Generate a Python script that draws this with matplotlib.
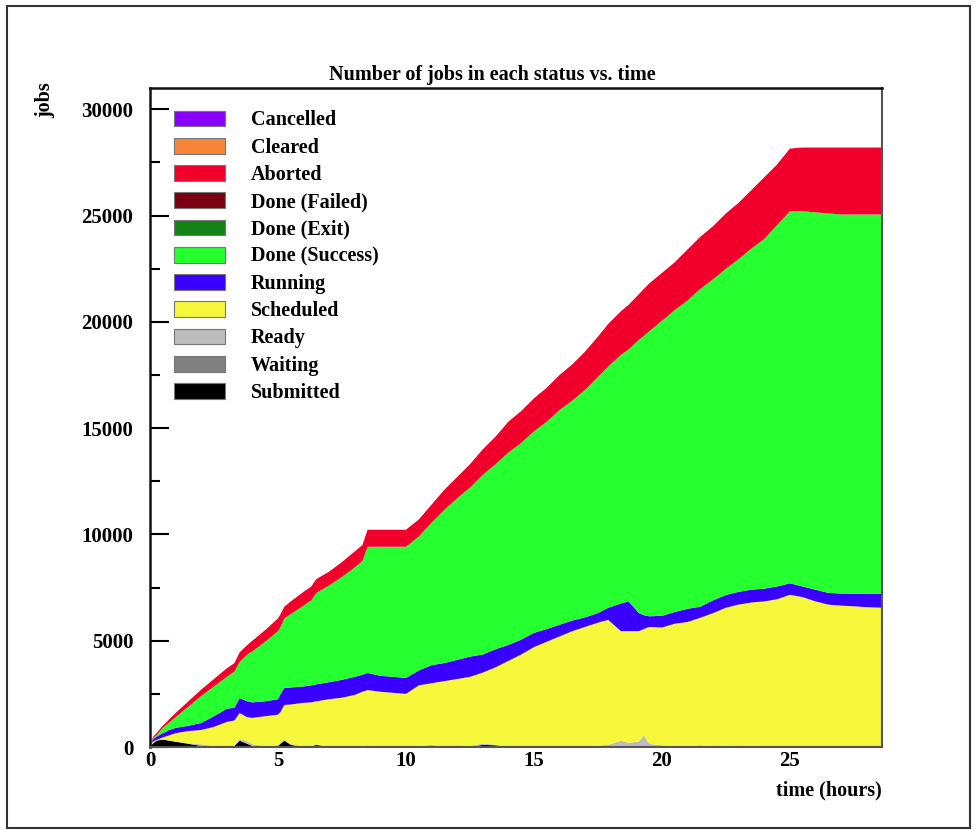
import numpy as np
import matplotlib
matplotlib.use('Agg')
import matplotlib.pyplot as plt
from matplotlib.patches import Patch, Rectangle
from matplotlib.ticker import MultipleLocator

# time since start of the run (hours)
hours = [0, 0.1, 0.25, 0.5, 0.75, 1, 1.5, 2, 2.5, 3, 3.3, 3.5, 3.8, 4, 4.5, 5,
         5.1, 5.25, 5.5, 6, 6.3, 6.5, 7, 7.5, 8, 8.3, 8.5, 9, 9.5, 10, 10.5, 11,
         11.5, 12, 12.5, 13, 13.5, 14, 14.5, 15, 15.5, 16, 16.5, 17, 17.5, 17.9,
         18.4, 18.7, 19.1, 19.3, 19.5, 20, 20.5, 21, 21.5, 22, 22.5, 23, 23.5,
         24, 24.5, 25, 25.5, 26, 26.5, 27, 27.5, 28, 28.6]

# number of jobs in each status at those times
submitted = [0, 150, 300, 350, 300, 250, 150, 50, 0, 0, 50, 300, 150, 50, 0, 50,
             150, 300, 100, 0, 30, 100, 0, 0, 0, 0, 0, 0, 0, 0, 0, 0,
             0, 0, 0, 100, 80, 0, 0, 0, 0, 0, 0, 0, 0, 0,
             0, 0, 0, 0, 0, 0, 0, 0, 0, 0, 0, 0, 0,
             0, 0, 0, 0, 0, 0, 0, 0, 0, 0]
ready = [0, 0, 0, 0, 0, 0, 20, 80, 40, 30, 0, 80, 120, 80, 40, 30,
         50, 40, 40, 30, 20, 0, 30, 20, 30, 50, 80, 30, 40, 20, 50, 100,
         30, 80, 50, 60, 30, 20, 30, 40, 20, 40, 50, 30, 60, 100,
         300, 200, 250, 550, 150, 80, 60, 50, 80, 40, 60, 40, 60,
         40, 30, 0, 0, 0, 0, 0, 0, 0, 0]
scheduled = [0, 100, 30, 100, 250, 400, 580, 670, 910, 1150, 1200, 1220, 1130, 1240, 1410, 1440,
             1450, 1640, 1860, 2050, 2050, 2050, 2220, 2300, 2420, 2550, 2600, 2570, 2510, 2480, 2850, 2900,
             3070, 3120, 3250, 3340, 3640, 4030, 4320, 4660, 4930, 5160, 5400, 5620, 5790, 5880,
             5150, 5250, 5200, 5000, 5500, 5540, 5740, 5830, 6000, 6260, 6490, 6660, 6740,
             6810, 6920, 7160, 7050, 6850, 6700, 6650, 6620, 6580, 6550]
running = [0, 100, 150, 200, 250, 250, 250, 330, 500, 620, 600, 700, 750, 730, 700, 730,
           850, 800, 800, 770, 800, 800, 800, 840, 850, 800, 800, 750, 750, 750, 700, 850,
           850, 900, 950, 850, 850, 750, 700, 670, 600, 550, 500, 450, 450, 570,
           1300, 1400, 850, 650, 500, 550, 550, 620, 520, 600, 600, 600, 600,
           600, 600, 540, 500, 550, 550, 570, 590, 620, 650]
done_success = [0, 50, 70, 250, 350, 500, 900, 1270, 1400, 1500, 1700, 1700, 2200, 2400, 2800, 3200,
                3150, 3270, 3450, 3800, 4000, 4300, 4550, 4840, 5150, 5350, 5940, 6070, 6120, 6170, 6300, 6700,
                7200, 7600, 7950, 8450, 8700, 9050, 9250, 9480, 9750, 10100, 10350, 10700, 11100, 11350,
                11700, 11850, 12850, 13150, 13400, 13880, 14200, 14500, 14950, 15100, 15350, 15650, 16050,
                16450, 17000, 17500, 17650, 17750, 17850, 17830, 17840, 17850, 17850]
aborted = [0, 50, 100, 100, 150, 200, 250, 300, 350, 400, 400, 450, 450, 500, 550, 600,
           600, 550, 600, 650, 650, 650, 650, 700, 750, 750, 800, 800, 800, 800, 800, 850,
           950, 1000, 1100, 1200, 1300, 1450, 1500, 1550, 1600, 1650, 1700, 1800, 1900, 2000,
           2050, 2100, 2150, 2200, 2250, 2250, 2250, 2400, 2450, 2500, 2600, 2650, 2750,
           2900, 2850, 2950, 3000, 3050, 3100, 3150, 3150, 3150, 3150]
zeros = [0] * len(hours)
waiting = zeros
done_exit = zeros
done_failed = zeros
cleared = zeros
cancelled = zeros

# stacked from the bottom up
statuses = ['Submitted', 'Waiting', 'Ready', 'Scheduled', 'Running', 'Done (Success)',
            'Done (Exit)', 'Done (Failed)', 'Aborted', 'Cleared', 'Cancelled']
counts = [submitted, waiting, ready, scheduled, running, done_success,
          done_exit, done_failed, aborted, cleared, cancelled]
colors = ['#000000', '#808080', '#bcbcbc', '#f6f63a', '#3a00ff', '#26ff30',
          '#148214', '#7a0012', '#f2002c', '#f8843a', '#8a00ff']

plt.rcParams['font.family'] = ['Liberation Serif', 'DejaVu Serif']
plt.rcParams['font.weight'] = 'bold'

fig = plt.figure(figsize=(9.8, 8.3), dpi=100)
ax = fig.add_axes([150 / 980, 1 - 747 / 830, 732 / 980, 659 / 830])

ax.stackplot(hours, *counts, colors=colors, linewidth=0)

ax.set_xlim(0, 28.6)
ax.set_ylim(0, 31000)
ax.xaxis.set_major_locator(MultipleLocator(5))
ax.yaxis.set_major_locator(MultipleLocator(5000))
ax.yaxis.set_minor_locator(MultipleLocator(2500))
ax.tick_params(axis='y', which='major', direction='in', length=14, width=1.5, labelsize=15, pad=12)
ax.tick_params(axis='y', which='minor', direction='in', length=7, width=1.5)
ax.tick_params(axis='x', which='both', length=0, labelsize=15, pad=3)
for side in ['left', 'top']:
    ax.spines[side].set_linewidth(1.8)
    ax.spines[side].set_color('#111111')
for side in ['right', 'bottom']:
    ax.spines[side].set_linewidth(1.5)
    ax.spines[side].set_color('#555555')

ax.set_title('Number of jobs in each status vs. time', fontsize=14.5, fontweight='bold',
             x=0.467, pad=6)
fig.text(45 / 980, 1 - 100 / 830, 'jobs', rotation=90, ha='center', va='center',
         fontsize=14.5, fontweight='bold')
ax.set_xlabel('time (hours)', fontsize=14.5, fontweight='bold', loc='right', labelpad=7)

# legend: top of the stack listed first
handles = [Patch(facecolor=c, edgecolor='#777777', linewidth=0.8) for c in colors[::-1]]
ax.legend(handles, statuses[::-1], loc='upper left', bbox_to_anchor=(0.033, 0.966),
          frameon=False, fontsize=14.5, handlelength=2.5, handleheight=0.82,
          handletextpad=1.3, labelspacing=0.36, borderpad=0, borderaxespad=0)

# outer frame around the whole canvas
fig.add_artist(Rectangle((7 / 980, 2 / 830), 963 / 980, 822 / 830, transform=fig.transFigure,
                         fill=False, edgecolor='#333333', linewidth=1.5))

fig.savefig('out.png', dpi=100)
